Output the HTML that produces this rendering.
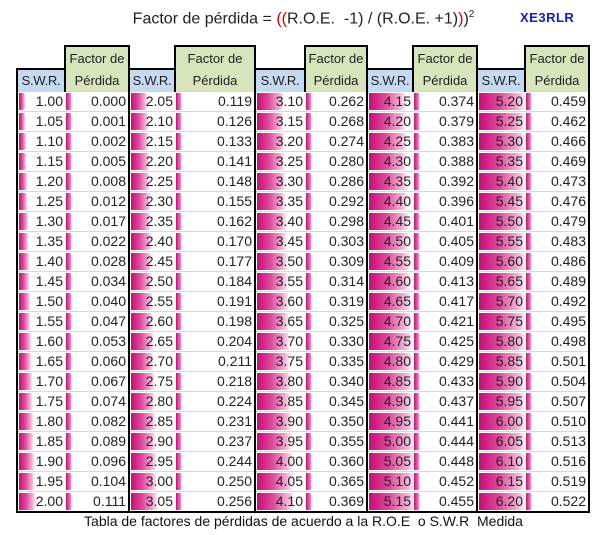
<!DOCTYPE html>
<html><head><meta charset="utf-8"><style>
html,body{margin:0;padding:0;background:#fff;width:607px;height:535px;overflow:hidden;font-family:"Liberation Sans",sans-serif}
.t{position:absolute;left:0;top:9px;width:607px;text-align:center;font-size:16px;color:#222}
.t .r{color:#c00}
.x{position:absolute;left:520px;top:10px;font-size:13px;font-weight:bold;color:#1020c8;letter-spacing:.5px}
.c{position:absolute;left:0;top:513px;width:607px;text-align:center;font-size:14px;color:#111}
table{position:absolute;left:16px;top:45px;border-collapse:collapse;table-layout:fixed;font-size:14px;color:#222}
td{padding:0 2px 0 0;text-align:right;border-bottom:1px solid #d4d8e0;position:relative;white-space:nowrap;overflow:hidden;height:19px;line-height:19px}
td span{position:relative}
.h1 td{height:22px;border-bottom:none;text-align:center;padding:0;font-size:13px}
.h2 td{height:21px;text-align:center;padding:0;border-bottom:1px solid #d4d8e0;font-size:13px}
.h1 .f{background:#d8e4bc;border:2px solid #000;border-bottom:none}
.h2 .s{background:#c5d9f1;border-top:2px solid #000;border-left:2px solid #000;letter-spacing:-.3px}
.h2 .f{background:#d8e4bc;border-right:2px solid #000;border-left:2px solid #000}
tr.d td.s{border-left:2px solid #000}
tr.d td.f{border-right:2px solid #000}
tr.d:last-child td{border-bottom:2px solid #000}
i{position:absolute;left:1px;top:1px;bottom:1px;background:linear-gradient(90deg,#cc0a78,#dc4c9c 45%,#f0b0d4 85%,#fbe8f2)}
td.f i{width:5px;background:linear-gradient(90deg,#cc0a78,#e890c0)}
</style></head><body>
<div class="t">Factor de pérdida = <span class="r">((</span>R.O.E.&nbsp; -1) / (R.O.E. +1)<span class="r">)</span>)<sup style="font-size:10px">2</sup></div>
<div class="x">XE3RLR</div>
<table>
<colgroup><col style="width:48px"><col style="width:64px"><col style="width:46px"><col style="width:80px"><col style="width:50px"><col style="width:62px"><col style="width:46px"><col style="width:64px"><col style="width:48px"><col style="width:64px"></colgroup>
<tr class="h1"><td></td><td class="f">Factor de</td><td></td><td class="f">Factor de</td><td></td><td class="f">Factor de</td><td></td><td class="f">Factor de</td><td></td><td class="f">Factor de</td></tr>
<tr class="h2"><td class="s">S.W.R.</td><td class="f">Pérdida</td><td class="s">S.W.R.</td><td class="f">Pérdida</td><td class="s">S.W.R.</td><td class="f">Pérdida</td><td class="s">S.W.R.</td><td class="f">Pérdida</td><td class="s">S.W.R.</td><td class="f">Pérdida</td></tr>
<tr class="d"><td class="s"><i style="width:6px"></i><span>1.00</span></td><td class="f"><i></i><span>0.000</span></td><td class="s"><i style="width:16px"></i><span>2.05</span></td><td class="f"><i></i><span>0.119</span></td><td class="s"><i style="width:26px"></i><span>3.10</span></td><td class="f"><i></i><span>0.262</span></td><td class="s"><i style="width:36px"></i><span>4.15</span></td><td class="f"><i></i><span>0.374</span></td><td class="s"><i style="width:45px"></i><span>5.20</span></td><td class="f"><i></i><span>0.459</span></td></tr>
<tr class="d"><td class="s"><i style="width:6px"></i><span>1.05</span></td><td class="f"><i></i><span>0.001</span></td><td class="s"><i style="width:17px"></i><span>2.10</span></td><td class="f"><i></i><span>0.126</span></td><td class="s"><i style="width:26px"></i><span>3.15</span></td><td class="f"><i></i><span>0.268</span></td><td class="s"><i style="width:36px"></i><span>4.20</span></td><td class="f"><i></i><span>0.379</span></td><td class="s"><i style="width:45px"></i><span>5.25</span></td><td class="f"><i></i><span>0.462</span></td></tr>
<tr class="d"><td class="s"><i style="width:7px"></i><span>1.10</span></td><td class="f"><i></i><span>0.002</span></td><td class="s"><i style="width:17px"></i><span>2.15</span></td><td class="f"><i></i><span>0.133</span></td><td class="s"><i style="width:27px"></i><span>3.20</span></td><td class="f"><i></i><span>0.274</span></td><td class="s"><i style="width:37px"></i><span>4.25</span></td><td class="f"><i></i><span>0.383</span></td><td class="s"><i style="width:45px"></i><span>5.30</span></td><td class="f"><i></i><span>0.466</span></td></tr>
<tr class="d"><td class="s"><i style="width:7px"></i><span>1.15</span></td><td class="f"><i></i><span>0.005</span></td><td class="s"><i style="width:18px"></i><span>2.20</span></td><td class="f"><i></i><span>0.141</span></td><td class="s"><i style="width:27px"></i><span>3.25</span></td><td class="f"><i></i><span>0.280</span></td><td class="s"><i style="width:37px"></i><span>4.30</span></td><td class="f"><i></i><span>0.388</span></td><td class="s"><i style="width:45px"></i><span>5.35</span></td><td class="f"><i></i><span>0.469</span></td></tr>
<tr class="d"><td class="s"><i style="width:8px"></i><span>1.20</span></td><td class="f"><i></i><span>0.008</span></td><td class="s"><i style="width:18px"></i><span>2.25</span></td><td class="f"><i></i><span>0.148</span></td><td class="s"><i style="width:28px"></i><span>3.30</span></td><td class="f"><i></i><span>0.286</span></td><td class="s"><i style="width:38px"></i><span>4.35</span></td><td class="f"><i></i><span>0.392</span></td><td class="s"><i style="width:45px"></i><span>5.40</span></td><td class="f"><i></i><span>0.473</span></td></tr>
<tr class="d"><td class="s"><i style="width:8px"></i><span>1.25</span></td><td class="f"><i></i><span>0.012</span></td><td class="s"><i style="width:19px"></i><span>2.30</span></td><td class="f"><i></i><span>0.155</span></td><td class="s"><i style="width:28px"></i><span>3.35</span></td><td class="f"><i></i><span>0.292</span></td><td class="s"><i style="width:38px"></i><span>4.40</span></td><td class="f"><i></i><span>0.396</span></td><td class="s"><i style="width:45px"></i><span>5.45</span></td><td class="f"><i></i><span>0.476</span></td></tr>
<tr class="d"><td class="s"><i style="width:9px"></i><span>1.30</span></td><td class="f"><i></i><span>0.017</span></td><td class="s"><i style="width:19px"></i><span>2.35</span></td><td class="f"><i></i><span>0.162</span></td><td class="s"><i style="width:29px"></i><span>3.40</span></td><td class="f"><i></i><span>0.298</span></td><td class="s"><i style="width:39px"></i><span>4.45</span></td><td class="f"><i></i><span>0.401</span></td><td class="s"><i style="width:45px"></i><span>5.50</span></td><td class="f"><i></i><span>0.479</span></td></tr>
<tr class="d"><td class="s"><i style="width:9px"></i><span>1.35</span></td><td class="f"><i></i><span>0.022</span></td><td class="s"><i style="width:20px"></i><span>2.40</span></td><td class="f"><i></i><span>0.170</span></td><td class="s"><i style="width:29px"></i><span>3.45</span></td><td class="f"><i></i><span>0.303</span></td><td class="s"><i style="width:39px"></i><span>4.50</span></td><td class="f"><i></i><span>0.405</span></td><td class="s"><i style="width:45px"></i><span>5.55</span></td><td class="f"><i></i><span>0.483</span></td></tr>
<tr class="d"><td class="s"><i style="width:10px"></i><span>1.40</span></td><td class="f"><i></i><span>0.028</span></td><td class="s"><i style="width:20px"></i><span>2.45</span></td><td class="f"><i></i><span>0.177</span></td><td class="s"><i style="width:30px"></i><span>3.50</span></td><td class="f"><i></i><span>0.309</span></td><td class="s"><i style="width:40px"></i><span>4.55</span></td><td class="f"><i></i><span>0.409</span></td><td class="s"><i style="width:45px"></i><span>5.60</span></td><td class="f"><i></i><span>0.486</span></td></tr>
<tr class="d"><td class="s"><i style="width:10px"></i><span>1.45</span></td><td class="f"><i></i><span>0.034</span></td><td class="s"><i style="width:20px"></i><span>2.50</span></td><td class="f"><i></i><span>0.184</span></td><td class="s"><i style="width:30px"></i><span>3.55</span></td><td class="f"><i></i><span>0.314</span></td><td class="s"><i style="width:40px"></i><span>4.60</span></td><td class="f"><i></i><span>0.413</span></td><td class="s"><i style="width:45px"></i><span>5.65</span></td><td class="f"><i></i><span>0.489</span></td></tr>
<tr class="d"><td class="s"><i style="width:11px"></i><span>1.50</span></td><td class="f"><i></i><span>0.040</span></td><td class="s"><i style="width:21px"></i><span>2.55</span></td><td class="f"><i></i><span>0.191</span></td><td class="s"><i style="width:31px"></i><span>3.60</span></td><td class="f"><i></i><span>0.319</span></td><td class="s"><i style="width:41px"></i><span>4.65</span></td><td class="f"><i></i><span>0.417</span></td><td class="s"><i style="width:45px"></i><span>5.70</span></td><td class="f"><i></i><span>0.492</span></td></tr>
<tr class="d"><td class="s"><i style="width:11px"></i><span>1.55</span></td><td class="f"><i></i><span>0.047</span></td><td class="s"><i style="width:21px"></i><span>2.60</span></td><td class="f"><i></i><span>0.198</span></td><td class="s"><i style="width:31px"></i><span>3.65</span></td><td class="f"><i></i><span>0.325</span></td><td class="s"><i style="width:41px"></i><span>4.70</span></td><td class="f"><i></i><span>0.421</span></td><td class="s"><i style="width:45px"></i><span>5.75</span></td><td class="f"><i></i><span>0.495</span></td></tr>
<tr class="d"><td class="s"><i style="width:12px"></i><span>1.60</span></td><td class="f"><i></i><span>0.053</span></td><td class="s"><i style="width:22px"></i><span>2.65</span></td><td class="f"><i></i><span>0.204</span></td><td class="s"><i style="width:32px"></i><span>3.70</span></td><td class="f"><i></i><span>0.330</span></td><td class="s"><i style="width:42px"></i><span>4.75</span></td><td class="f"><i></i><span>0.425</span></td><td class="s"><i style="width:45px"></i><span>5.80</span></td><td class="f"><i></i><span>0.498</span></td></tr>
<tr class="d"><td class="s"><i style="width:12px"></i><span>1.65</span></td><td class="f"><i></i><span>0.060</span></td><td class="s"><i style="width:22px"></i><span>2.70</span></td><td class="f"><i></i><span>0.211</span></td><td class="s"><i style="width:32px"></i><span>3.75</span></td><td class="f"><i></i><span>0.335</span></td><td class="s"><i style="width:42px"></i><span>4.80</span></td><td class="f"><i></i><span>0.429</span></td><td class="s"><i style="width:45px"></i><span>5.85</span></td><td class="f"><i></i><span>0.501</span></td></tr>
<tr class="d"><td class="s"><i style="width:13px"></i><span>1.70</span></td><td class="f"><i></i><span>0.067</span></td><td class="s"><i style="width:23px"></i><span>2.75</span></td><td class="f"><i></i><span>0.218</span></td><td class="s"><i style="width:33px"></i><span>3.80</span></td><td class="f"><i></i><span>0.340</span></td><td class="s"><i style="width:43px"></i><span>4.85</span></td><td class="f"><i></i><span>0.433</span></td><td class="s"><i style="width:45px"></i><span>5.90</span></td><td class="f"><i></i><span>0.504</span></td></tr>
<tr class="d"><td class="s"><i style="width:13px"></i><span>1.75</span></td><td class="f"><i></i><span>0.074</span></td><td class="s"><i style="width:23px"></i><span>2.80</span></td><td class="f"><i></i><span>0.224</span></td><td class="s"><i style="width:33px"></i><span>3.85</span></td><td class="f"><i></i><span>0.345</span></td><td class="s"><i style="width:43px"></i><span>4.90</span></td><td class="f"><i></i><span>0.437</span></td><td class="s"><i style="width:45px"></i><span>5.95</span></td><td class="f"><i></i><span>0.507</span></td></tr>
<tr class="d"><td class="s"><i style="width:14px"></i><span>1.80</span></td><td class="f"><i></i><span>0.082</span></td><td class="s"><i style="width:24px"></i><span>2.85</span></td><td class="f"><i></i><span>0.231</span></td><td class="s"><i style="width:34px"></i><span>3.90</span></td><td class="f"><i></i><span>0.350</span></td><td class="s"><i style="width:44px"></i><span>4.95</span></td><td class="f"><i></i><span>0.441</span></td><td class="s"><i style="width:45px"></i><span>6.00</span></td><td class="f"><i></i><span>0.510</span></td></tr>
<tr class="d"><td class="s"><i style="width:14px"></i><span>1.85</span></td><td class="f"><i></i><span>0.089</span></td><td class="s"><i style="width:24px"></i><span>2.90</span></td><td class="f"><i></i><span>0.237</span></td><td class="s"><i style="width:34px"></i><span>3.95</span></td><td class="f"><i></i><span>0.355</span></td><td class="s"><i style="width:44px"></i><span>5.00</span></td><td class="f"><i></i><span>0.444</span></td><td class="s"><i style="width:45px"></i><span>6.05</span></td><td class="f"><i></i><span>0.513</span></td></tr>
<tr class="d"><td class="s"><i style="width:15px"></i><span>1.90</span></td><td class="f"><i></i><span>0.096</span></td><td class="s"><i style="width:25px"></i><span>2.95</span></td><td class="f"><i></i><span>0.244</span></td><td class="s"><i style="width:35px"></i><span>4.00</span></td><td class="f"><i></i><span>0.360</span></td><td class="s"><i style="width:45px"></i><span>5.05</span></td><td class="f"><i></i><span>0.448</span></td><td class="s"><i style="width:45px"></i><span>6.10</span></td><td class="f"><i></i><span>0.516</span></td></tr>
<tr class="d"><td class="s"><i style="width:15px"></i><span>1.95</span></td><td class="f"><i></i><span>0.104</span></td><td class="s"><i style="width:25px"></i><span>3.00</span></td><td class="f"><i></i><span>0.250</span></td><td class="s"><i style="width:35px"></i><span>4.05</span></td><td class="f"><i></i><span>0.365</span></td><td class="s"><i style="width:45px"></i><span>5.10</span></td><td class="f"><i></i><span>0.452</span></td><td class="s"><i style="width:45px"></i><span>6.15</span></td><td class="f"><i></i><span>0.519</span></td></tr>
<tr class="d"><td class="s"><i style="width:16px"></i><span>2.00</span></td><td class="f"><i></i><span>0.111</span></td><td class="s"><i style="width:26px"></i><span>3.05</span></td><td class="f"><i></i><span>0.256</span></td><td class="s"><i style="width:36px"></i><span>4.10</span></td><td class="f"><i></i><span>0.369</span></td><td class="s"><i style="width:45px"></i><span>5.15</span></td><td class="f"><i></i><span>0.455</span></td><td class="s"><i style="width:45px"></i><span>6.20</span></td><td class="f"><i></i><span>0.522</span></td></tr>
</table>
<div class="c">Tabla de factores de pérdidas de acuerdo a la R.O.E&nbsp; o S.W.R&nbsp; Medida</div>
</body></html>
